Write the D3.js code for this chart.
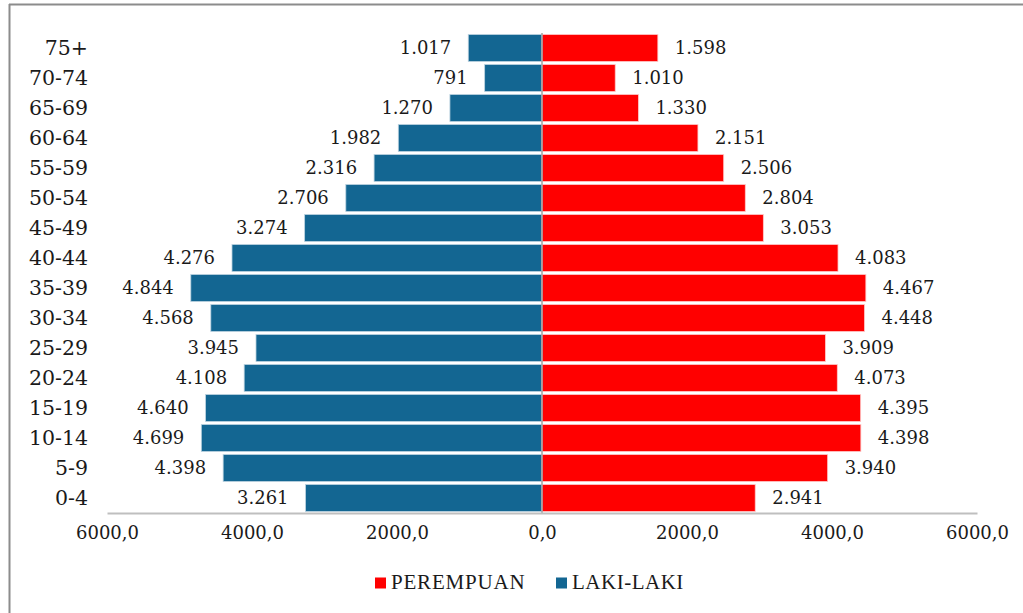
<!DOCTYPE html>
<html>
<head>
<meta charset="utf-8">
<script src="https://cdn.jsdelivr.net/npm/d3@7"></script>
<style>
  html, body { margin: 0; padding: 0; background: #fff; }
  svg { display: block; }
  .lbl { font-family: "DejaVu Serif", serif; font-size: 18px; fill: #1a1a1a; }
  .cat { font-family: "DejaVu Serif", serif; font-size: 20.5px; fill: #1a1a1a; }
  .leg { font-family: "Liberation Serif", serif; font-size: 21px; fill: #1a1a1a; }
</style>
</head>
<body>
<svg id="chart" width="1023" height="613"></svg>
<script>
// Age groups, top to bottom
const ageGroups = ["75+", "70-74", "65-69", "60-64", "55-59", "50-54", "45-49", "40-44",
                   "35-39", "30-34", "25-29", "20-24", "15-19", "10-14", "5-9", "0-4"];
// LAKI-LAKI (male) counts
const male = [1017, 791, 1270, 1982, 2316, 2706, 3274, 4276,
              4844, 4568, 3945, 4108, 4640, 4699, 4398, 3261];
// PEREMPUAN (female) counts
const female = [1598, 1010, 1330, 2151, 2506, 2804, 3053, 4083,
                4467, 4448, 3909, 4073, 4395, 4398, 3940, 2941];
// Axis ticks
const tickValues = [-6000, -4000, -2000, 0, 2000, 4000, 6000];
const tickLabels = ["6000,0", "4000,0", "2000,0", "0,0", "2000,0", "4000,0", "6000,0"];

const blue = "#136692", red = "#ff0000";
const svg = d3.select("#chart");

// Frame: top and left edges
svg.append("line").attr("x1", 9).attr("x2", 1023).attr("y1", 4.5).attr("y2", 4.5)
  .attr("stroke", "#8c8c8c").attr("stroke-width", 2);
svg.append("line").attr("x1", 9.5).attr("x2", 9.5).attr("y1", 4).attr("y2", 613)
  .attr("stroke", "#8c8c8c").attr("stroke-width", 2);

const x = d3.scaleLinear().domain([-6000, 6000]).range([107, 977]);
const y = d3.scaleBand().domain(ageGroups).range([33, 513]).paddingInner(0.1).paddingOuter(0.05);

const fmt = v => v >= 1000 ? d3.format(",")(v).replace(/,/g, ".") : String(v);

// Male bars (left)
svg.append("g").selectAll("rect").data(ageGroups).join("rect")
  .attr("x", (d, i) => x(-male[i]))
  .attr("y", d => y(d))
  .attr("width", (d, i) => x(0) - x(-male[i]))
  .attr("height", y.bandwidth())
  .attr("fill", blue).attr("stroke", "#bcd3e0").attr("stroke-width", 0.8);

// Female bars (right)
svg.append("g").selectAll("rect").data(ageGroups).join("rect")
  .attr("x", x(0))
  .attr("y", d => y(d))
  .attr("width", (d, i) => x(female[i]) - x(0))
  .attr("height", y.bandwidth())
  .attr("fill", red).attr("stroke", "#ffc8c8").attr("stroke-width", 0.8);

// Zero line
svg.append("line").attr("x1", x(0)).attr("x2", x(0)).attr("y1", 33).attr("y2", 513)
  .attr("stroke", "#a0a0a0").attr("stroke-width", 1.5);

// Bottom axis
const axis = d3.axisBottom(x).tickValues(tickValues)
  .tickFormat((d, i) => tickLabels[i]).tickSize(0).tickPadding(13);
const ax = svg.append("g").attr("transform", "translate(0,513)").call(axis);
ax.select(".domain").attr("stroke", "#bfbfbf").attr("stroke-width", 2);
ax.selectAll("text").attr("class", "lbl").attr("font-family", null).attr("font-size", null);

// Category labels
svg.append("g").selectAll("text").data(ageGroups).join("text")
  .attr("class", "cat")
  .attr("x", 88).attr("y", d => y(d) + y.bandwidth() / 2)
  .attr("dy", "0.35em").attr("text-anchor", "end")
  .text(d => d);

// Value labels
svg.append("g").selectAll("text").data(ageGroups).join("text")
  .attr("class", "lbl")
  .attr("x", (d, i) => x(-male[i]) - 17).attr("y", d => y(d) + y.bandwidth() / 2)
  .attr("dy", "0.35em").attr("text-anchor", "end")
  .text((d, i) => fmt(male[i]));
svg.append("g").selectAll("text").data(ageGroups).join("text")
  .attr("class", "lbl")
  .attr("x", (d, i) => x(female[i]) + 17).attr("y", d => y(d) + y.bandwidth() / 2)
  .attr("dy", "0.35em").attr("text-anchor", "start")
  .text((d, i) => fmt(female[i]));

// Legend
const legend = [{ name: "PEREMPUAN", color: red, x: 375, ls: 0.8 }, { name: "LAKI-LAKI", color: blue, x: 556, ls: 0.5 }];
const lg = svg.append("g").selectAll("g").data(legend).join("g")
  .attr("transform", d => `translate(${d.x},583)`);
lg.append("rect").attr("x", 0).attr("y", -5.5).attr("width", 11).attr("height", 11).attr("fill", d => d.color);
lg.append("text").attr("class", "leg").attr("x", 16).attr("y", 5.5)
  .style("letter-spacing", d => d.ls + "px").text(d => d.name);
</script>
</body>
</html>
